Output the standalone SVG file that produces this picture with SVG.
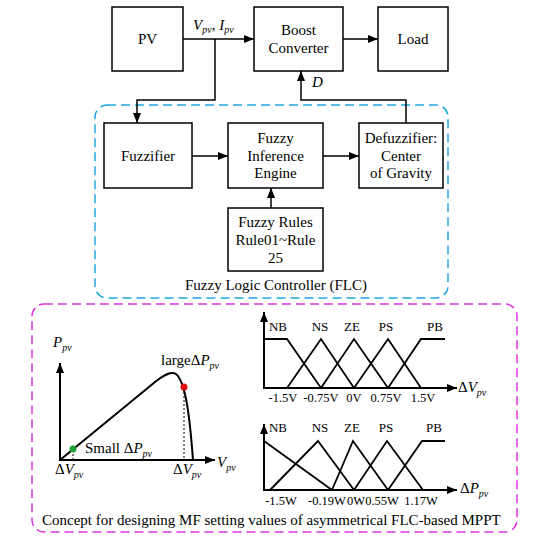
<svg xmlns="http://www.w3.org/2000/svg" width="533" height="550" viewBox="0 0 533 550">
<defs>
<marker id="ah" markerUnits="userSpaceOnUse" markerWidth="11" markerHeight="9" refX="10" refY="4" orient="auto">
<path d="M0,0 L10,4 L0,8 z" fill="#000"/>
</marker>
<style>
text{font-family:"Liberation Serif","Times New Roman",serif;fill:#000}
.t{font-size:15px;text-anchor:middle}
.box{fill:#fff;stroke:#000;stroke-width:1.5}
.ln{fill:none;stroke:#000;stroke-width:1.5}
.ar{fill:none;stroke:#000;stroke-width:1.5;marker-end:url(#ah)}
.ax{fill:none;stroke:#000;stroke-width:2;marker-end:url(#ah)}
.mf{fill:none;stroke:#000;stroke-width:1.8}
.lb{font-size:13px;text-anchor:middle}
.tk{font-size:12.5px;text-anchor:middle}
.i{font-style:italic}
.s{font-size:10px;font-style:italic}
.dot{fill:none;stroke:#000;stroke-width:1;stroke-dasharray:2 2}
</style>
</defs>
<rect x="95" y="105" width="353" height="193" rx="12" fill="none" stroke="#22a6e0" stroke-width="1.5" stroke-dasharray="9 5"/>
<rect x="32" y="304" width="485" height="228" rx="12" fill="none" stroke="#e034e0" stroke-width="1.5" stroke-dasharray="9 5"/>
<g id="connectors">
<path class="ar" d="M183,39 H254"/>
<path class="ar" d="M215,39 V100 H137 V123"/>
<path class="ar" d="M343,39 H378"/>
<path class="ar" d="M406,123 V100 H301 V71"/>
<path class="ar" d="M192,156 H228"/>
<path class="ar" d="M323,156 H359"/>
<path class="ar" d="M271,208 V188"/>
</g>
<text x="193" y="30" font-size="15px"><tspan class="i">V</tspan><tspan class="s" dy="3">pv</tspan><tspan dy="-3">, </tspan><tspan class="i">I</tspan><tspan class="s" dy="3">pv</tspan></text>
<text x="312" y="87" font-size="15px" class="i">D</text>
<g id="pv"><rect class="box" x="112" y="7" width="71" height="64"/><text class="t" x="147.5" y="44">PV</text></g>
<g id="boost"><rect class="box" x="254" y="7" width="89" height="64"/><text class="t" x="298.5" y="35">Boost</text><text class="t" x="298.5" y="53">Converter</text></g>
<g id="load"><rect class="box" x="378" y="7" width="70" height="64"/><text class="t" x="413" y="44">Load</text></g>
<g id="fuzzifier"><rect class="box" x="104" y="123" width="88" height="65"/><text class="t" x="148" y="161">Fuzzifier</text></g>
<g id="engine"><rect class="box" x="228" y="123" width="95" height="65"/><text class="t" x="275.5" y="143">Fuzzy</text><text class="t" x="275.5" y="161">Inference</text><text class="t" x="275.5" y="178">Engine</text></g>
<g id="defuzzifier"><rect class="box" x="359" y="123" width="84" height="65"/><text class="t" x="401" y="143">Defuzzifier:</text><text class="t" x="401" y="161">Center</text><text class="t" x="401" y="178">of Gravity</text></g>
<g id="rules"><rect class="box" x="228" y="208" width="95" height="63"/><text class="t" x="275.5" y="227">Fuzzy Rules</text><text class="t" x="275.5" y="245">Rule01~Rule</text><text class="t" x="275.5" y="263">25</text></g>
<text class="t" x="276" y="290">Fuzzy Logic Controller (FLC)</text>

<!-- PV curve -->
<path class="ax" d="M60,461 V363"/>
<path class="ax" d="M59,460 H215"/>
<path fill="none" stroke="#000" stroke-width="2" d="M60,460 L155,382 C164,375 171,371 176,374 C186,382 190,420 193,460"/>
<line class="dot" x1="184" y1="388" x2="184" y2="460"/>
<line class="dot" x1="73" y1="450" x2="73" y2="460"/>
<circle cx="184" cy="387" r="3.5" fill="#e01010"/>
<circle cx="73" cy="449" r="3.5" fill="#20a030"/>
<text x="53" y="347" font-size="15px"><tspan class="i">P</tspan><tspan class="s" dy="4">pv</tspan></text>
<text x="161" y="365" font-size="15px">large<tspan>Δ</tspan><tspan class="i">P</tspan><tspan class="s" dy="4">pv</tspan></text>
<text x="85" y="453" font-size="15px">Small Δ<tspan class="i">P</tspan><tspan class="s" dy="4">pv</tspan></text>
<text x="55" y="474" font-size="15px">Δ<tspan class="i">V</tspan><tspan class="s" dy="4">pv</tspan></text>
<text x="173" y="474" font-size="15px">Δ<tspan class="i">V</tspan><tspan class="s" dy="4">pv</tspan></text>
<text x="217" y="467" font-size="15px"><tspan class="i">V</tspan><tspan class="s" dy="4">pv</tspan></text>

<!-- MF chart 1 -->
<path class="ax" d="M264,389 V312"/>
<path class="ax" d="M263,388 H457"/>
<path class="mf" d="M264,339 H287 L321,388"/>
<path class="mf" d="M287,388 L321,339 L354,388"/>
<path class="mf" d="M321,388 L354,339 L388,388"/>
<path class="mf" d="M354,388 L388,339 L421,388"/>
<path class="mf" d="M388,388 L421,339 H445"/>
<text class="lb" x="278" y="331">NB</text>
<text class="lb" x="320" y="331">NS</text>
<text class="lb" x="352" y="331">ZE</text>
<text class="lb" x="386" y="331">PS</text>
<text class="lb" x="435" y="331">PB</text>
<text class="tk" x="283" y="402">-1.5V</text>
<text class="tk" x="321" y="402">-0.75V</text>
<text class="tk" x="354" y="402">0V</text>
<text class="tk" x="386" y="402">0.75V</text>
<text class="tk" x="423" y="402">1.5V</text>
<text x="458" y="392" font-size="15px">Δ<tspan class="i">V</tspan><tspan class="s" dy="4">pv</tspan></text>

<!-- MF chart 2 -->
<path class="ax" d="M264,491 V424"/>
<path class="ax" d="M263,490 H457"/>
<path class="mf" d="M264,441 L332,490"/>
<path class="mf" d="M270,490 L318,441 L354,490"/>
<path class="mf" d="M332,490 L353,441 L388,490"/>
<path class="mf" d="M354,490 L387,441 L423,490"/>
<path class="mf" d="M388,490 L422,441 H445"/>
<text class="lb" x="278" y="432">NB</text>
<text class="lb" x="320" y="432">NS</text>
<text class="lb" x="352" y="432">ZE</text>
<text class="lb" x="386" y="432">PS</text>
<text class="lb" x="434" y="432">PB</text>
<text class="tk" x="281" y="505">-1.5W</text>
<text class="tk" x="327" y="505">-0.19W</text>
<text class="tk" x="356" y="505">0W</text>
<text class="tk" x="382" y="505">0.55W</text>
<text class="tk" x="421" y="505">1.17W</text>
<text x="460" y="493" font-size="15px">Δ<tspan class="i">P</tspan><tspan class="s" dy="4">pv</tspan></text>

<text x="42" y="525" font-size="15px">Concept for designing MF setting values of asymmetrical FLC-based MPPT</text>
</svg>
